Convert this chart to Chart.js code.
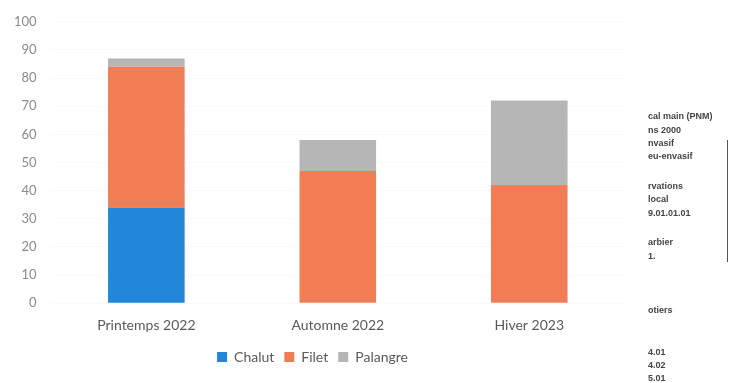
<!DOCTYPE html>
<html>
<head>
<meta charset="utf-8">
<script src="https://cdn.jsdelivr.net/npm/chart.js@4.4.1/dist/chart.umd.min.js"></script>
<style>
  html, body { margin: 0; padding: 0; background: #fff; }
  #wrap { width: 729px; height: 383px; position: relative; }
</style>
</head>
<body>
<div id="wrap"><canvas id="chartId" width="729" height="383"></canvas></div>
<script>
const seasons = ['Printemps 2022', 'Automne 2022', 'Hiver 2023'];
const chalut = [34, 0, 0];
const filet = [50, 47, 42];
const palangre = [3, 11, 30];
const yTicks = [0, 10, 20, 30, 40, 50, 60, 70, 80, 90, 100];

// bits of a neighbouring document that show through at the right edge
const sideNotes = [
    ['cal main (PNM)', 117], ['ns 2000', 131], ['nvasif', 144], ['eu-envasif', 157],
    ['rvations', 187], ['local', 200], ['9.01.01.01', 214],
    ['arbier', 243], ['1.', 257], ['otiers', 311],
    ['4.01', 353], ['4.02', 366], ['5.01', 379]
];

const sidePlugin = {
    id: 'sideNotes',
    afterDraw(chart) {
        const ctx = chart.ctx;
        ctx.save();
        ctx.fillStyle = '#444';
        ctx.font = 'bold 9px "Liberation Sans"';
        ctx.textBaseline = 'middle';
        for (const [txt, y] of sideNotes) {
            ctx.fillText(txt, 648, y);
        }
        ctx.strokeStyle = '#555';
        ctx.lineWidth = 1;
        ctx.beginPath();
        ctx.moveTo(727.5, 140);
        ctx.lineTo(727.5, 262);
        ctx.stroke();
        ctx.restore();
    }
};

var chrt = document.getElementById('chartId').getContext('2d');
var chartId = new Chart(chrt, {
    type: 'bar',
    data: {
        labels: seasons,
        datasets: [
            { label: 'Chalut', data: chalut, backgroundColor: '#2287db' },
            { label: 'Filet', data: filet, backgroundColor: '#f07d54' },
            { label: 'Palangre', data: palangre, backgroundColor: '#b6b6b6' }
        ]
    },
    options: {
        responsive: false,
        animation: false,
        layout: { padding: { top: 8, right: 104, left: 0, bottom: 9 } },
        datasets: { bar: { categoryPercentage: 1, barPercentage: 0.4 } },
        scales: {
            x: {
                stacked: true,
                grid: { display: false },
                border: { display: false },
                ticks: { color: '#595959', font: { family: 'Lato', size: 14 }, padding: 6 }
            },
            y: {
                stacked: true,
                min: 0,
                max: 100,
                afterBuildTicks: (axis) => { axis.ticks = yTicks.map(v => ({ value: v })); },
                grid: { color: '#f9f9f9', drawTicks: false },
                border: { display: false },
                ticks: { color: '#8a8a8a', font: { family: 'Lato', size: 13 }, padding: 14 }
            }
        },
        plugins: {
            tooltip: { enabled: false },
            legend: {
                position: 'bottom',
                labels: {
                    color: '#595959',
                    font: { family: 'Lato', size: 14 },
                    boxWidth: 10,
                    boxHeight: 10,
                    padding: 10
                }
            }
        }
    },
    plugins: [sidePlugin]
});
</script>
</body>
</html>
